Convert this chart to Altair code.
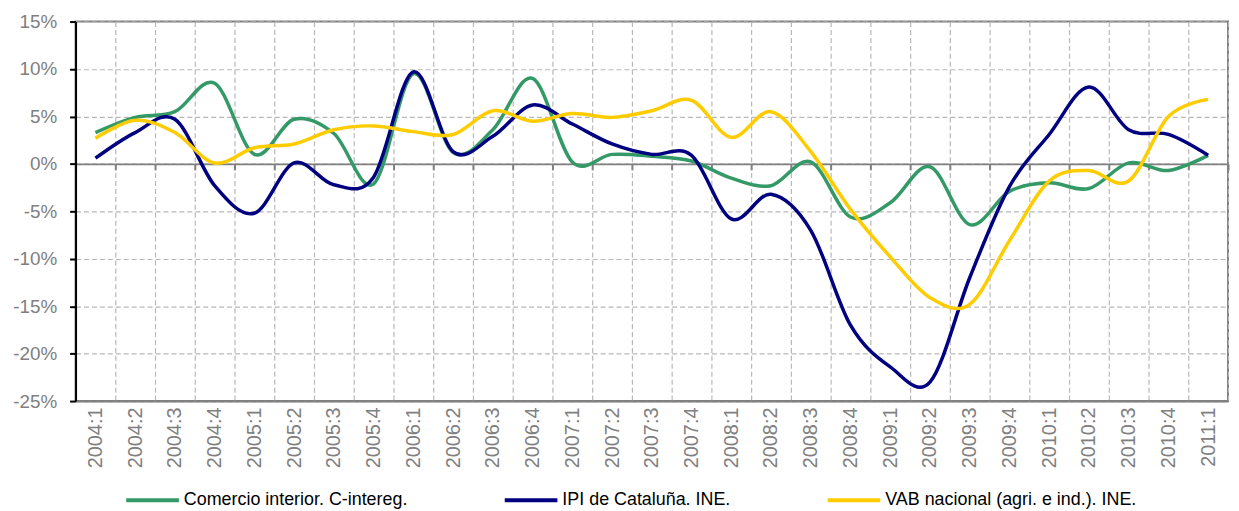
import altair as alt
import pandas as pd

quarters = [
    "2004:1", "2004:2", "2004:3", "2004:4",
    "2005:1", "2005:2", "2005:3", "2005:4",
    "2006:1", "2006:2", "2006:3", "2006:4",
    "2007:1", "2007:2", "2007:3", "2007:4",
    "2008:1", "2008:2", "2008:3", "2008:4",
    "2009:1", "2009:2", "2009:3", "2009:4",
    "2010:1", "2010:2", "2010:3", "2010:4",
    "2011:1",
]

comercio = [3.3, 4.9, 5.5, 8.5, 1.0, 4.7, 3.2, -2.1, 9.5, 1.2, 3.6, 9.0, 0.2, 1.0, 0.8, 0.3,
            -1.5, -2.3, 0.2, -5.6, -4.1, -0.3, -6.4, -2.9, -2.0, -2.6, 0.1, -0.7, 0.9]
ipi = [0.6, 3.3, 4.7, -2.3, -5.2, 0.1, -2.2, -1.4, 9.7, 1.3, 2.9, 6.2, 4.2, 2.1, 1.0, 0.9,
       -5.8, -3.2, -7.0, -17.0, -21.4, -23.0, -12.0, -2.4, 3.1, 8.1, 3.6, 3.1, 0.9]
vab = [2.7, 4.6, 3.3, 0.1, 1.7, 2.1, 3.6, 4.0, 3.4, 3.1, 5.6, 4.5, 5.3, 4.9, 5.6, 6.7,
       2.8, 5.5, 1.3, -4.8, -9.8, -14.1, -14.8, -8.1, -1.8, -0.7, -1.8, 5.0, 6.8]

series_names = [
    "Comercio interior. C-intereg.",
    "IPI de Cataluña. INE.",
    "VAB nacional (agri. e ind.). INE.",
]
series_colors = ["#339966", "#000080", "#FFCC00"]
y_ticks = [-25, -20, -15, -10, -5, 0, 5, 10, 15]

rows = []
for name, vals in zip(series_names, [comercio, ipi, vab]):
    for q, v in zip(quarters, vals):
        rows.append({"Trimestre": q, "Serie": name, "Valor": v})
df = pd.DataFrame(rows)

FONT = "Liberation Sans"
GRAY = "#808080"

xscale = alt.Scale(type="band", domain=quarters, paddingInner=0, paddingOuter=0)
yscale = alt.Scale(domain=[-25, 15], nice=False, zero=False)

lines = alt.Chart(df).mark_line(interpolate="cardinal", strokeWidth=3.5).encode(
    x=alt.X(
        "Trimestre:O", scale=xscale, bandPosition=0.5, sort=quarters,
        axis=alt.Axis(
            orient="bottom", title=None, labelAngle=270, labelFontSize=20,
            labelColor=GRAY, labelFont=FONT, labelPadding=6, ticks=False, tickSize=0,
            tickBand="extent", grid=True, gridColor="#b8b8b8", gridDash=[5, 3],
            gridWidth=1.2, domain=True, domainColor=GRAY, domainWidth=2,
        ),
    ),
    y=alt.Y(
        "Valor:Q", scale=yscale,
        axis=alt.Axis(
            values=y_ticks, labelExpr="datum.value + '%'", title=None,
            labelFontSize=19, labelColor=GRAY, labelFont=FONT, labelPadding=13,
            ticks=True, tickSize=6, tickColor="black", tickWidth=2,
            domain=True, domainColor="black", domainWidth=2,
            grid=True, gridColor="#b8b8b8", gridDash=[5, 3], gridWidth=1.2,
        ),
    ),
    color=alt.Color(
        "Serie:N",
        scale=alt.Scale(domain=series_names, range=series_colors),
        legend=alt.Legend(
            title=None, orient="none", legendX=49, legendY=453,
            direction="horizontal", symbolType="stroke", symbolSize=2809,
            symbolStrokeWidth=4, labelFontSize=18, labelFont=FONT,
            labelColor="black", labelOffset=3, columnPadding=89, labelLimit=400,
        ),
    ),
)

zero_axis = alt.Chart(df).mark_line(opacity=0).encode(
    x=alt.X(
        "Trimestre:O", scale=xscale, bandPosition=0.5, sort=quarters,
        axis=alt.Axis(
            orient="bottom", offset=-238.75, labels=False, grid=False, title=None,
            ticks=True, tickBand="extent", tickSize=6, tickColor=GRAY, tickWidth=2,
            domain=True, domainColor=GRAY, domainWidth=2,
        ),
    ),
    y=alt.Y("Valor:Q", scale=yscale),
    detail="Serie:N",
)

chart = (
    alt.layer(zero_axis, lines)
    .resolve_axis(x="independent")
    .properties(
        width=1160, height=382, autosize="none",
        padding={"left": 68, "top": 12, "right": 3, "bottom": 109},
        background="white",
    )
    .configure_view(stroke=GRAY, strokeWidth=2)
)

chart.save("out.html", embed_options={"renderer": "svg", "actions": False})
